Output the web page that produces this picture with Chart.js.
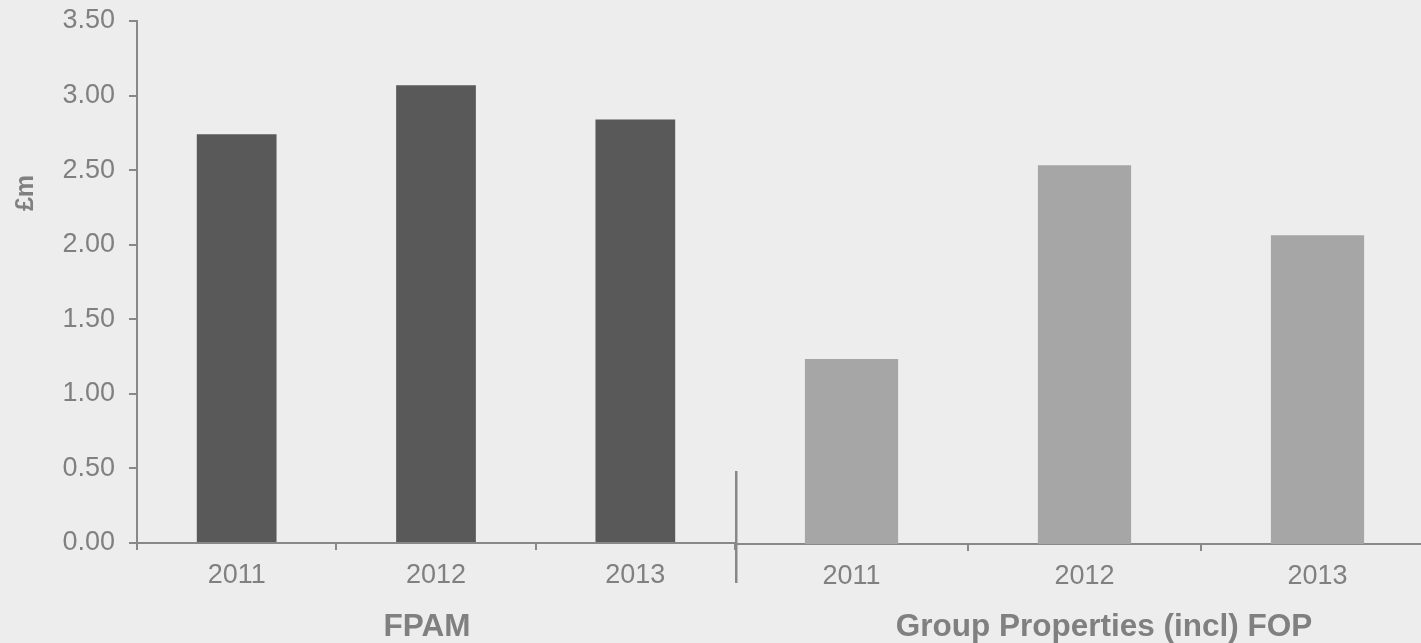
<!DOCTYPE html>
<html>
<head>
<meta charset="utf-8">
<script src="https://cdn.jsdelivr.net/npm/chart.js@4"></script>
<style>
  html, body { margin: 0; padding: 0; background: #ededed; width: 1421px; height: 643px; overflow: hidden; }
  .wrap { position: absolute; top: 0; height: 643px; }
  #leftWrap { left: 0; width: 735px; }
  #rightWrap { left: 735px; width: 699px; }
</style>
</head>
<body>
<div class="wrap" id="leftWrap"><canvas id="left"></canvas></div>
<div class="wrap" id="rightWrap"><canvas id="right"></canvas></div>
<script>
// ---- data ----
const categories = ['2011', '2012', '2013'];
const fpamValues = [2.74, 3.07, 2.84];
const groupValues = [1.24, 2.54, 2.07];
const groupNames = ['FPAM', 'Group Properties (incl) FOP'];
const yAxisTitle = '£m';
const yMin = 0, yMax = 3.5, yStep = 0.5;

const FONT = '"Liberation Sans", Arial, sans-serif';
const TEXT = '#808080';
const AXIS = '#888888';
const TICK_SIZE = 27;

const textPlugin = {
  id: 'freeText',
  afterDraw(chart, args, opts) {
    const ctx = chart.ctx;
    (opts.items || []).forEach(it => {
      ctx.save();
      ctx.translate(it.x, it.y);
      if (it.rotate) ctx.rotate(it.rotate);
      ctx.font = it.font;
      ctx.fillStyle = TEXT;
      ctx.textAlign = 'center';
      ctx.textBaseline = 'middle';
      ctx.fillText(it.text, 0, 0);
      ctx.restore();
    });
    (opts.lines || []).forEach(l => {
      ctx.save();
      ctx.strokeStyle = AXIS;
      ctx.lineWidth = l.w;
      ctx.beginPath();
      ctx.moveTo(l.x1, l.y1);
      ctx.lineTo(l.x2, l.y2);
      ctx.stroke();
      ctx.restore();
    });
  }
};

function xScale(fitHeight) {
  return {
    type: 'category',
    offset: true,
    border: { display: true, color: AXIS, width: 2 },
    grid: { display: true, offset: true, drawOnChartArea: false, drawTicks: true, tickLength: 7, color: AXIS, lineWidth: 2 },
    ticks: { color: TEXT, font: { family: FONT, size: TICK_SIZE }, padding: 9 },
    afterFit(s) { s.height = fitHeight; s.paddingLeft = 0; s.paddingRight = 0; }
  };
}

function yScale(show) {
  return {
    display: show,
    min: yMin, max: yMax,
    border: { display: true, color: AXIS, width: 2 },
    grid: { display: true, drawOnChartArea: false, drawTicks: true, tickLength: 8, color: AXIS, lineWidth: 2 },
    ticks: {
      stepSize: yStep, color: TEXT, font: { family: FONT, size: TICK_SIZE }, padding: 14,
      callback: v => Number(v).toFixed(2)
    },
    afterFit(s) { if (show) s.width = 137; s.paddingTop = 0; s.paddingBottom = 0; }
  };
}

new Chart(document.getElementById('left'), {
  type: 'bar',
  data: {
    labels: categories,
    datasets: [{ data: fpamValues, backgroundColor: '#595959', categoryPercentage: 1, barPercentage: 0.4 }]
  },
  options: {
    responsive: true, maintainAspectRatio: false, animation: false,
    layout: { padding: { top: 21, right: 0, left: 0, bottom: 0 } },
    plugins: {
      legend: { display: false }, tooltip: { enabled: false },
      freeText: {
        items: [
          { text: yAxisTitle, x: 26, y: 193, rotate: -Math.PI / 2, font: 'bold 25px ' + FONT },
          { text: groupNames[0], x: 427, y: 627, font: 'bold 31.5px ' + FONT }
        ]
      }
    },
    scales: { x: xScale(100), y: yScale(true) }
  },
  plugins: [textPlugin]
});

new Chart(document.getElementById('right'), {
  type: 'bar',
  data: {
    labels: categories,
    datasets: [{ data: groupValues, backgroundColor: '#a6a6a6', categoryPercentage: 1, barPercentage: 0.4 }]
  },
  options: {
    responsive: true, maintainAspectRatio: false, animation: false,
    layout: { padding: { top: 22, right: 0, left: 0, bottom: 0 } },
    plugins: {
      legend: { display: false }, tooltip: { enabled: false },
      freeText: {
        items: [
          { text: groupNames[1], x: 369, y: 627, font: 'bold 31.5px ' + FONT }
        ],
        lines: [ { x1: 1, y1: 471, x2: 1, y2: 583, w: 3 } ]
      }
    },
    scales: { x: xScale(99), y: yScale(false) }
  },
  plugins: [textPlugin]
});
</script>
</body>
</html>
